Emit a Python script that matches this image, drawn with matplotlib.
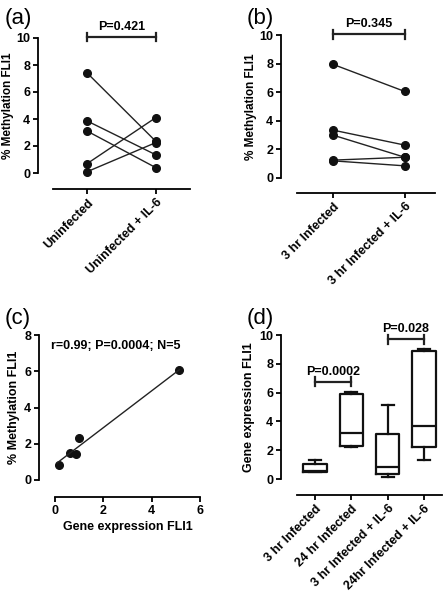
import numpy as np
import matplotlib
matplotlib.use("Agg")
import matplotlib.pyplot as plt

plt.rcParams['font.family'] = ['Liberation Sans', 'DejaVu Sans']
plt.rcParams['font.weight'] = 'bold'
plt.rcParams['font.size'] = 9

# (a) paired methylation, uninfected
a_labels = ["Uninfected", "Uninfected + IL-6"]
a_before = [7.4, 3.85, 3.1, 0.7, 0.1]
a_after = [2.35, 1.35, 0.4, 4.1, 2.25]
a_p = "P=0.421"

# (b) paired methylation, 3 hr infected
b_labels = ["3 hr Infected", "3 hr Infected + IL-6"]
b_before = [7.95, 3.35, 3.0, 1.25, 1.2]
b_after = [6.05, 2.3, 1.45, 1.45, 0.85]
b_p = "P=0.345"

# (c) correlation
c_expr = [0.15, 0.6, 0.85, 1.0, 5.15]
c_meth = [0.85, 1.5, 1.45, 2.3, 6.05]
c_text = "r=0.99; P=0.0004; N=5"

# (d) gene expression boxes (min, q1, median, q3, max)
d_labels = ["3 hr Infected", "24 hr Infected", "3 hr Infected + IL-6", "24hr Infected + IL-6"]
d_min = [0.5, 2.2, 0.15, 1.3]
d_q1 = [0.5, 2.3, 0.35, 2.2]
d_med = [0.55, 3.2, 0.85, 3.65]
d_q3 = [1.05, 5.9, 3.1, 8.9]
d_max = [1.35, 6.05, 5.15, 9.05]

W, H = 445, 600
fig = plt.figure(figsize=(W / 100, H / 100), dpi=100)


def px_axes(x0, x1, ytop, ybot):
    # pixel coords (from top-left) -> figure axes
    return fig.add_axes([x0 / W, 1 - ybot / H, (x1 - x0) / W, (ybot - ytop) / H])


def style(ax, left_out, bottom_out):
    for s in ['top', 'right']:
        ax.spines[s].set_visible(False)
    ax.spines['left'].set_position(('outward', left_out * 0.72))
    ax.spines['bottom'].set_position(('outward', bottom_out * 0.72))
    for s in ['left', 'bottom']:
        ax.spines[s].set_linewidth(1.3)
    ax.tick_params(width=1.3, length=3.5, labelsize=9, pad=2)
    ax.patch.set_visible(False)


def bracket(ax, x0, x1, y, text, cap=0.3):
    ax.plot([x0, x1], [y, y], color='#222222', lw=1.6, clip_on=False)
    ax.plot([x0, x0], [y - cap, y + cap], color='#222222', lw=1.6, clip_on=False)
    ax.plot([x1, x1], [y - cap, y + cap], color='#222222', lw=1.6, clip_on=False)
    ax.annotate(text, xy=((x0 + x1) / 2, y), xytext=(0, 3), textcoords='offset points',
                ha='center', va='bottom', fontsize=9, fontweight='bold', annotation_clip=False)


def paired(ax, before, after, labels, ptext):
    for b, a in zip(before, after):
        ax.plot([0, 1], [b, a], color='#222222', lw=1.0, marker='o', ms=5.5,
                mfc='#111111', mec='#111111', clip_on=False)
    ax.set_ylim(0, 10)
    ax.set_yticks([0, 2, 4, 6, 8, 10])
    ax.spines['left'].set_bounds(0, 10)
    ax.set_xticks([0, 1])
    ax.set_xticklabels(labels, rotation=45, ha='right', rotation_mode='anchor', fontweight='bold')
    ax.set_ylabel("% Methylation FLI1", fontweight='bold', fontsize=8.5, labelpad=2)
    bracket(ax, 0, 1, 10.05, ptext)


# panel a
ax = px_axes(53, 190, 38, 173)
style(ax, 15, 16)
ax.set_xlim(-0.5, 1.5)
paired(ax, a_before, a_after, a_labels, a_p)
fig.text(5 / W, 1 - 8 / H, "(a)", fontsize=16, fontweight='normal', va='top')

# panel b
ax = px_axes(297, 435, 35, 178)
style(ax, 16, 15)
ax.set_xlim(-0.5, 1.42)
paired(ax, b_before, b_after, b_labels, b_p)
fig.text(247 / W, 1 - 8 / H, "(b)", fontsize=16, fontweight='normal', va='top')

# panel c
ax = px_axes(55, 200, 335, 480)
style(ax, 16, 17)
ax.plot(c_expr, c_meth, 'o', ms=5.5, color='#111111', clip_on=False)
k, c0 = np.polyfit(c_expr, c_meth, 1)
xs = np.array([min(c_expr) - 0.05, max(c_expr)])
ax.plot(xs, k * xs + c0, color='#222222', lw=1.0)
ax.set_xlim(0, 6)
ax.set_ylim(0, 8)
ax.set_xticks([0, 2, 4, 6])
ax.set_yticks([0, 2, 4, 6, 8])
ax.set_xlabel("Gene expression FLI1", fontweight='bold', labelpad=3)
ax.set_ylabel("% Methylation FLI1", fontweight='bold', labelpad=3)
ax.text(2.5, 7.4, c_text, ha='center', va='center', fontsize=9, fontweight='bold')
fig.text(5 / W, 1 - 308 / H, "(c)", fontsize=16, fontweight='normal', va='top')

# panel d
ax = px_axes(297, 442, 335, 479)
style(ax, 16, 16)
stats = []
for i in range(len(d_labels)):
    stats.append(dict(whislo=d_min[i], q1=d_q1[i], med=d_med[i], q3=d_q3[i], whishi=d_max[i]))
ax.bxp(stats, positions=range(len(d_labels)), widths=0.65, showfliers=False,
       boxprops=dict(color='#111111', lw=1.6),
       medianprops=dict(color='#111111', lw=1.6),
       whiskerprops=dict(color='#111111', lw=1.6),
       capprops=dict(color='#111111', lw=1.6))
ax.set_xlim(-0.5, 3.5)
ax.set_ylim(0, 10)
ax.set_yticks([0, 2, 4, 6, 8, 10])
ax.set_xticks(range(len(d_labels)))
ax.set_xticklabels(d_labels, rotation=45, ha='right', rotation_mode='anchor', fontweight='bold')
ax.set_ylabel("Gene expression FLI1", fontweight='bold', labelpad=3)
bracket(ax, 0, 1, 6.75, "P=0.0002")
bracket(ax, 2, 3, 9.7, "P=0.028")
fig.text(247 / W, 1 - 308 / H, "(d)", fontsize=16, fontweight='normal', va='top')

fig.savefig("out.png", dpi=100)
